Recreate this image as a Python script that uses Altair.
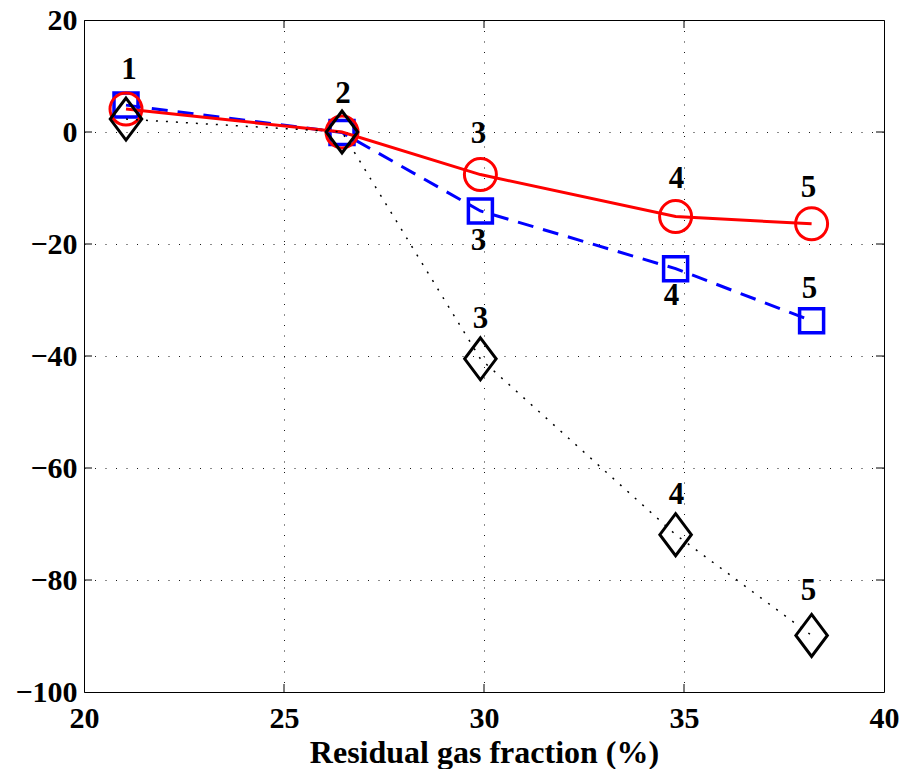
import altair as alt
import pandas as pd

# ---- data ----
x_vals = [21.05, 26.45, 29.91, 34.79, 38.19]
red_vals = [4.1, 0.0, -7.6, -15.1, -16.4]
blue_vals = [4.8, -0.1, -14.1, -24.4, -33.7]
black_vals = [2.3, 0.0, -40.5, -71.9, -89.9]

x_ticks = [20, 25, 30, 35, 40]
y_ticks = [-100, -80, -60, -40, -20, 0, 20]

label_series = ["red", "red", "red", "red", "red", "blue", "blue", "blue", "black", "black", "black"]
label_index = [0, 1, 2, 3, 4, 2, 3, 4, 2, 3, 4]
label_dy_px = [-39, -38, -41, -38, -36, 30, 27, -32, -40, -40, -44]
label_dx_px = [3, 1, -2, 1, -3, -2, -4, -2, 0, 1, -3]

W, H = 800, 672
X_DOM = [20, 40]
Y_DOM = [-100, 20]
PX_X = W / (X_DOM[1] - X_DOM[0])
PX_Y = H / (Y_DOM[1] - Y_DOM[0])

FONT = "Liberation Serif"

series_vals = {"red": red_vals, "blue": blue_vals, "black": black_vals}

def df_for(vals):
    return pd.DataFrame({"x": x_vals, "y": vals})

xs = alt.Scale(domain=X_DOM, nice=False, zero=False)
ys = alt.Scale(domain=Y_DOM, nice=False, zero=False)

x_axis = alt.Axis(values=x_ticks, grid=True, ticks=False, domain=False,
                  labelFont=FONT, labelFontWeight="bold", labelFontSize=30,
                  labelColor="black", labelPadding=11, labelFlush=False,
                  title="Residual gas fraction (%)", titleFont=FONT,
                  titleFontWeight="bold", titleFontSize=32, titleColor="black",
                  titlePadding=4, gridDash=[1, 9.5], gridColor="black",
                  gridOpacity=0.9, gridWidth=1)
y_axis = alt.Axis(values=y_ticks, grid=True, ticks=False, domain=False,
                  labelFont=FONT, labelFontWeight="bold", labelFontSize=30,
                  labelColor="black", labelPadding=7, labelFlush=False,
                  title=None, gridDash=[1, 9.5], gridColor="black",
                  gridOpacity=0.9, gridWidth=1)

X = alt.X("x:Q", scale=xs, axis=x_axis)
Y = alt.Y("y:Q", scale=ys, axis=y_axis)
Xn = alt.X("x:Q", scale=xs)
Yn = alt.Y("y:Q", scale=ys)

diamond = "M0,-1L0.75,0L0,1L-0.75,0Z"

# base layer carrying the axes
base = alt.Chart(df_for(red_vals)).mark_point(opacity=0).encode(x=X, y=Y)

blue_line = alt.Chart(df_for(blue_vals)).mark_line(
    color="#0000ff", strokeWidth=3, strokeDash=[16, 10]).encode(x=Xn, y=Yn)
blue_pts = alt.Chart(df_for(blue_vals)).mark_point(
    shape="square", size=576, filled=False, color="#0000ff", strokeWidth=3.5,
    strokeJoin="miter", opacity=1).encode(x=Xn, y=Yn)

red_line = alt.Chart(df_for(red_vals)).mark_line(
    color="#ff0000", strokeWidth=3).encode(x=Xn, y=Yn)
red_pts = alt.Chart(df_for(red_vals)).mark_point(
    shape="circle", size=1024, filled=False, color="#ff0000", strokeWidth=3,
    opacity=1).encode(x=Xn, y=Yn)

black_line = alt.Chart(df_for(black_vals)).mark_line(
    color="black", strokeWidth=1.5, strokeDash=[2, 8]).encode(x=Xn, y=Yn)
black_pts = alt.Chart(df_for(black_vals)).mark_point(
    shape=diamond, size=1764, filled=False, color="black", strokeWidth=3,
    strokeJoin="miter", opacity=1).encode(x=Xn, y=Yn)

# point number labels
lab_rows = []
for s, i, dy, dx in zip(label_series, label_index, label_dy_px, label_dx_px):
    lab_rows.append({
        "x": x_vals[i] + dx / PX_X,
        "y": series_vals[s][i] - dy / PX_Y,
        "t": str(i + 1),
    })
labels = alt.Chart(pd.DataFrame(lab_rows)).mark_text(
    font=FONT, fontWeight="bold", fontSize=31, color="black",
    align="center", baseline="middle").encode(x=Xn, y=Yn, text="t:N")

# inward ticks (MATLAB style) on all four sides
xt = pd.DataFrame({"v": x_ticks[1:-1]})
yt = pd.DataFrame({"v": y_ticks[1:-1]})
tick_bottom = alt.Chart(xt).mark_rule(color="black", strokeWidth=1).encode(
    x=alt.X("v:Q", scale=xs), y=alt.value(H), y2=alt.value(H - 8))
tick_top = alt.Chart(xt).mark_rule(color="black", strokeWidth=1).encode(
    x=alt.X("v:Q", scale=xs), y=alt.value(0), y2=alt.value(8))
tick_left = alt.Chart(yt).mark_rule(color="black", strokeWidth=1).encode(
    y=alt.Y("v:Q", scale=ys), x=alt.value(0), x2=alt.value(8))
tick_right = alt.Chart(yt).mark_rule(color="black", strokeWidth=1).encode(
    y=alt.Y("v:Q", scale=ys), x=alt.value(W), x2=alt.value(W - 8))

chart = alt.layer(
    base, tick_bottom, tick_top, tick_left, tick_right,
    blue_line, blue_pts, red_line, red_pts, black_line, black_pts, labels
).properties(
    width=W, height=H,
    autosize=alt.AutoSizeParams(type="none"),
    padding={"left": 76, "top": 12, "right": 15, "bottom": 77},
    background="white",
).configure_view(
    stroke="black", strokeWidth=1
)

chart.save("out.html", embed_options={"renderer": "svg", "actions": False})
